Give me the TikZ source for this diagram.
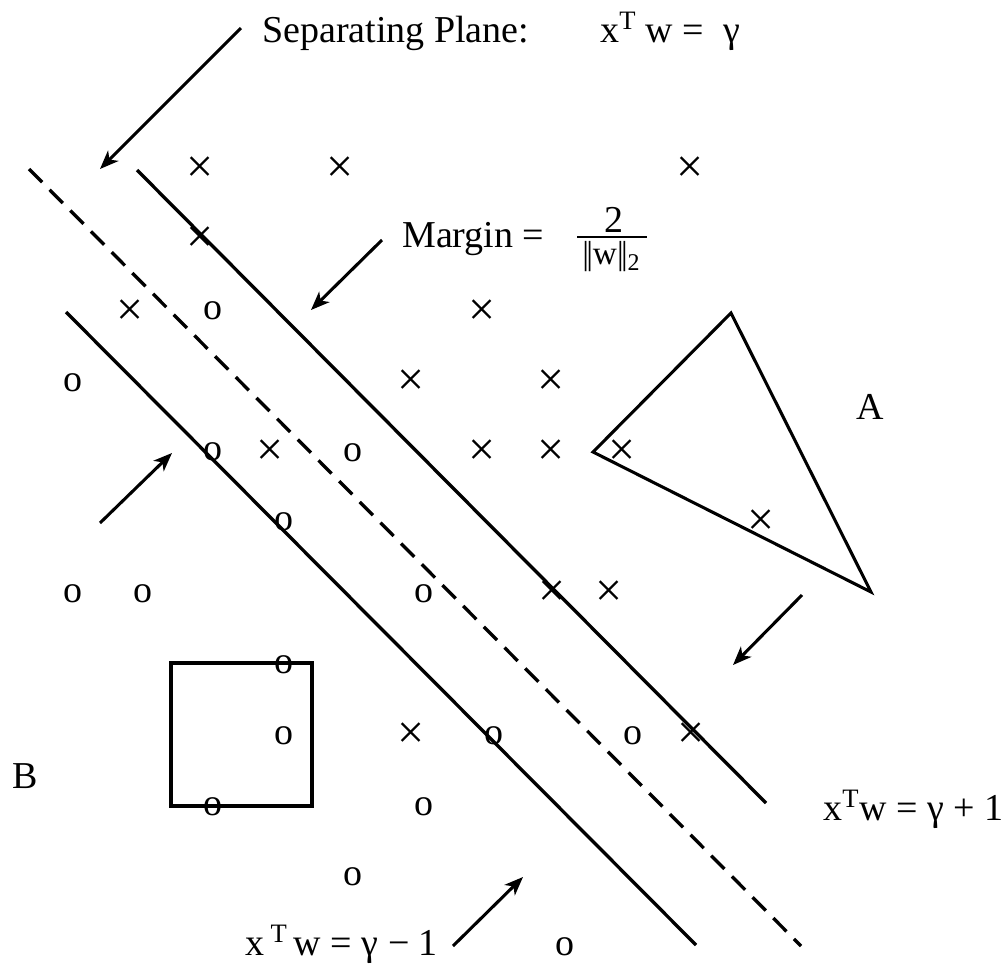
\documentclass[tikz,border=0pt]{standalone}
\usepackage{fontspec}
\setmainfont{Liberation Serif}
\usetikzlibrary{arrows.meta}
\begin{document}
\begin{tikzpicture}[x=0.75pt,y=-0.75pt,
  lbl/.style={font=\fontsize{28.5}{34}\selectfont, inner sep=0pt},
  mk/.style={font=\fontsize{28.5}{34}\selectfont, inner sep=0pt},
  xmk/.style={font=\fontsize{36}{40}\selectfont, inner sep=0pt},
  bound/.style={line width=2.5pt},
  mid/.style={line width=2.5pt, dash pattern=on 14pt off 8pt},
  arr/.style={line width=2.3pt, -{Stealth[length=14pt,width=11pt,inset=4pt]}},
  region/.style={line width=2.3pt, line join=miter}]
\useasboundingbox (0,0) rectangle (1008,968);

% bounding planes and separating plane
\coordinate (u1) at (137,170);  \coordinate (u2) at (766,803);
\coordinate (d1) at (29,169);   \coordinate (d2) at (801,946);
\coordinate (l1) at (66,312);   \coordinate (l2) at (696,945);
\draw[bound] (u1) -- (u2);
\draw[mid] (d1) -- (d2);
\draw[bound] (l1) -- (l2);

% triangle A and square B
\coordinate (t1) at (731,313); \coordinate (t2) at (593,452); \coordinate (t3) at (871,592);
\draw[region] (t1) -- (t2) -- (t3) -- cycle;
\coordinate (s1) at (171,663); \coordinate (s2) at (312,806);
\draw[region] (s1) rectangle (s2);

% crosses
\foreach \i/\p in {1/{200,170},2/{340,170},3/{690,170},4/{200,240},5/{130,313},6/{482,313},
  7/{411,383},8/{551,383},9/{270,453},10/{482,453},11/{551,453},12/{622,453},13/{761,523},
  14/{552,594},15/{609,594},16/{411,736},17/{691,736}}
  \node[xmk] (x\i) at (\p) {×};
% circles
\foreach \i/\p in {1/{213,311},2/{73,383},3/{213,452},4/{353,453},5/{284,522},6/{73,594},
  7/{143,594},8/{424,594},9/{284,665},10/{284,736},11/{494,736},12/{633,736},13/{213,807},
  14/{424,807},15/{353,877},16/{565,947}}
  \node[mk] (o\i) at (\p) {o};

% labels
\node[lbl, anchor=base west] (sep) at (262,42) {Separating Plane:};
\node[lbl, anchor=base west] (sepeq) at (600,42) {x\textsuperscript{T} w = \hspace{0.25em}γ};
\node[lbl, anchor=base west] (marg) at (402,247) {Margin =};
\node[lbl, anchor=base] (num) at (614,232) {2};
\coordinate (bar1) at (577,237); \coordinate (bar2) at (647,237);
\draw[line width=1.3pt] (bar1) -- (bar2);
\node[inner sep=0pt, anchor=base, font=\fontsize{25}{28}\selectfont] (den) at (611,264)
  {|\kern-0.08em|w|\kern-0.08em|\raisebox{-0.2em}{\fontsize{18}{20}\selectfont 2}};
\node[lbl, anchor=base] (A) at (870,419) {A};
\node[lbl, anchor=base] (B) at (25,788) {B};
\node[lbl, anchor=base west] (plus) at (823,820) {x\textsuperscript{T}w = γ + 1};
\node[lbl, anchor=base west] (minus) at (245,955) {x\,\textsuperscript{T}\,w = γ − 1};

% arrows
\coordinate (a1s) at (241,28);  \coordinate (a1e) at (100,169);
\coordinate (a2s) at (382,240); \coordinate (a2e) at (311,310);
\coordinate (a3s) at (100,523); \coordinate (a3e) at (172,453);
\coordinate (a4s) at (802,595); \coordinate (a4e) at (733,665);
\coordinate (a5s) at (453,946); \coordinate (a5e) at (523,877);
\draw[arr] (a1s) -- (a1e);
\draw[arr] (a2s) -- (a2e);
\draw[arr] (a3s) -- (a3e);
\draw[arr] (a4s) -- (a4e);
\draw[arr] (a5s) -- (a5e);
\end{tikzpicture}
\end{document}
